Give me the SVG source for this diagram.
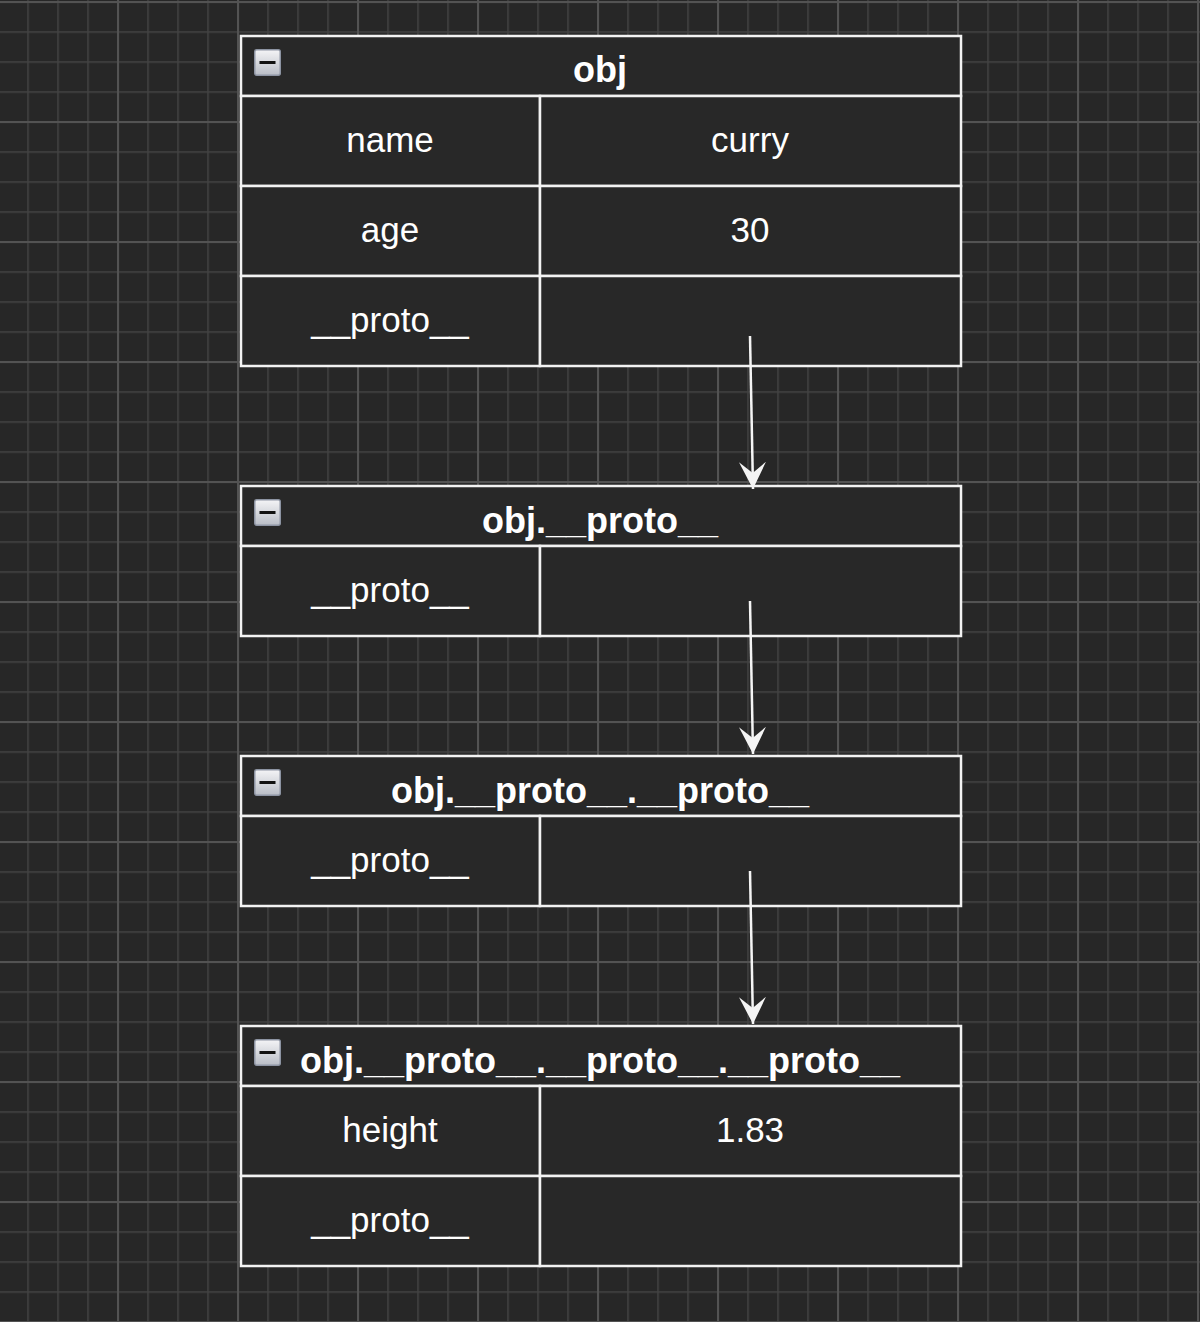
<svg xmlns="http://www.w3.org/2000/svg" width="1200" height="1322" viewBox="0 0 1200 1322">
<defs>
<pattern id="gMinor" x="27.25" y="1.25" width="30" height="30" patternUnits="userSpaceOnUse">
<rect x="0" y="0" width="1.5" height="30" fill="#434343"/>
<rect x="0" y="0" width="30" height="1.5" fill="#434343"/>
</pattern>
<pattern id="gMajor" x="117" y="1" width="120" height="120" patternUnits="userSpaceOnUse">
<rect x="0" y="0" width="2" height="120" fill="#535353"/>
<rect x="0" y="0" width="120" height="2" fill="#535353"/>
</pattern>
<linearGradient id="iconGrad" x1="0" y1="0" x2="0" y2="1">
<stop offset="0" stop-color="#f4f4f6"/>
<stop offset="1" stop-color="#b9bdc6"/>
</linearGradient>
<marker id="arrow" viewBox="0 0 28 28" refX="27" refY="14" markerWidth="28" markerHeight="28" markerUnits="userSpaceOnUse" orient="auto">
<path d="M27 14 L0 0.5 L11 14 L0 27.5 Z" fill="#f4f4f4"/>
</marker>
<g id="icon">
<rect x="0.75" y="0.75" width="25.5" height="25.5" rx="2" fill="url(#iconGrad)" stroke="#8d94a3" stroke-width="1.5"/>
<rect x="5.5" y="12" width="16" height="3" fill="#111"/>
</g>
</defs>
<style>
.cell { fill: #282828; stroke: #f2f2f2; stroke-width: 2.5; }
.hdr { font-family: "Liberation Sans", Arial, sans-serif; font-weight: bold; font-size: 36px; fill: #ffffff; text-anchor: middle; }
.txt { font-family: "Liberation Sans", Arial, sans-serif; font-size: 35px; fill: #ffffff; text-anchor: middle; }
.conn { stroke: #f4f4f4; stroke-width: 2.5; fill: none; }
</style>
<rect width="1200" height="1322" fill="#272727"/>
<rect width="1200" height="1322" fill="url(#gMinor)"/>
<rect width="1200" height="1322" fill="url(#gMajor)"/>

<g id="node-obj">
<rect class="cell" x="241" y="36" width="720" height="60"/>
<use href="#icon" x="254" y="49"/>
<text class="hdr" x="600" y="82">obj</text>
<rect class="cell" x="241" y="96" width="299" height="90"/>
<rect class="cell" x="540" y="96" width="421" height="90"/>
<text class="txt" x="390" y="152">name</text>
<text class="txt" x="750" y="152">curry</text>
<rect class="cell" x="241" y="186" width="299" height="90"/>
<rect class="cell" x="540" y="186" width="421" height="90"/>
<text class="txt" x="390" y="242">age</text>
<text class="txt" x="750" y="242">30</text>
<rect class="cell" x="241" y="276" width="299" height="90"/>
<rect class="cell" x="540" y="276" width="421" height="90"/>
<text class="txt" x="390" y="332">__proto__</text>
</g>

<g id="node-proto1">
<rect class="cell" x="241" y="486" width="720" height="60"/>
<use href="#icon" x="254" y="499"/>
<text class="hdr" x="600" y="533">obj.__proto__</text>
<rect class="cell" x="241" y="546" width="299" height="90"/>
<rect class="cell" x="540" y="546" width="421" height="90"/>
<text class="txt" x="390" y="602">__proto__</text>
</g>

<g id="node-proto2">
<rect class="cell" x="241" y="756" width="720" height="60"/>
<use href="#icon" x="254" y="769"/>
<text class="hdr" x="600" y="803">obj.__proto__.__proto__</text>
<rect class="cell" x="241" y="816" width="299" height="90"/>
<rect class="cell" x="540" y="816" width="421" height="90"/>
<text class="txt" x="390" y="872">__proto__</text>
</g>

<g id="node-proto3">
<rect class="cell" x="241" y="1026" width="720" height="60"/>
<use href="#icon" x="254" y="1039"/>
<text class="hdr" x="600" y="1073">obj.__proto__.__proto__.__proto__</text>
<rect class="cell" x="241" y="1086" width="299" height="90"/>
<rect class="cell" x="540" y="1086" width="421" height="90"/>
<text class="txt" x="390" y="1142">height</text>
<text class="txt" x="750" y="1142">1.83</text>
<rect class="cell" x="241" y="1176" width="299" height="90"/>
<rect class="cell" x="540" y="1176" width="421" height="90"/>
<text class="txt" x="390" y="1232">__proto__</text>
</g>

<g id="connectors">
<path class="conn" d="M750 336 L753 489" marker-end="url(#arrow)"/>
<path class="conn" d="M750 601 L753 754" marker-end="url(#arrow)"/>
<path class="conn" d="M750 871 L753 1024" marker-end="url(#arrow)"/>
</g>
</svg>
